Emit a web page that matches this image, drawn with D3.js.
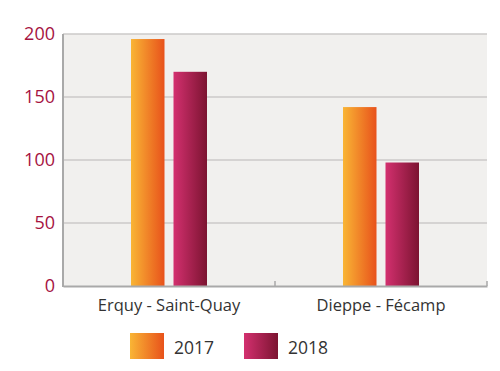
<!DOCTYPE html>
<html><head><meta charset="utf-8">
<script src="https://cdn.jsdelivr.net/npm/d3@7"></script>
<style>body{margin:0;background:#fff}svg{display:block}</style>
</head><body>
<svg id="c" width="500" height="371"></svg>
<script>
const categories = ["Erquy - Saint-Quay", "Dieppe - Fécamp"];
const seriesNames = ["2017", "2018"];
const values2017 = [196, 142];
const values2018 = [170, 98];
const yTicks = [0, 50, 100, 150, 200];

const svg = d3.select("#c");
const m = {l: 63, r: 487, t: 34, b: 286};
const x = d3.scaleBand().domain(categories).range([m.l, m.r]);
const xs = d3.scaleBand().domain(seriesNames).range([0, x.bandwidth()]).paddingInner(0.212).paddingOuter(1.6);
const y = d3.scaleLinear().domain([0, 200]).range([m.b, m.t]);

const defs = svg.append("defs");
const grads = [["g2017", "#f9b535", "#e8521b"], ["g2018", "#d3306f", "#7c1431"]];
grads.forEach(([id, a, b]) => {
  const g = defs.append("linearGradient").attr("id", id).attr("x1", 0).attr("x2", 1).attr("y1", 0).attr("y2", 0);
  g.append("stop").attr("offset", 0).attr("stop-color", a);
  g.append("stop").attr("offset", 1).attr("stop-color", b);
});

svg.append("rect").attr("x", m.l).attr("y", m.t).attr("width", m.r - m.l).attr("height", m.b - m.t).attr("fill", "#f1f0ee");

svg.append("g").selectAll("line").data(yTicks.filter(d => d > 0)).join("line")
  .attr("x1", m.l).attr("x2", m.r).attr("y1", d => y(d)).attr("y2", d => y(d))
  .attr("stroke", "#cbcac8").attr("stroke-width", 1.5);

const yAxis = svg.append("g").attr("transform", `translate(${m.l},0)`)
  .call(d3.axisLeft(y).tickValues(yTicks).tickSize(0).tickPadding(8));
yAxis.select(".domain").remove();
yAxis.selectAll("text").attr("fill", "#a6133f").attr("font-family", "Open Sans, sans-serif").attr("font-size", 18);

const data = categories.map((c, i) => ({c, v: [values2017[i], values2018[i]]}));
const g = svg.append("g");
data.forEach(d => {
  seriesNames.forEach((s, j) => {
    g.append("rect")
      .attr("x", x(d.c) + xs(s)).attr("width", xs.bandwidth())
      .attr("y", y(d.v[j])).attr("height", y(0) - y(d.v[j]))
      .attr("fill", `url(#g${s})`);
  });
});

// axes lines
svg.append("line").attr("x1", m.l).attr("x2", m.l).attr("y1", m.t).attr("y2", m.b + 1).attr("stroke", "#a9a9a9").attr("stroke-width", 2);
const xAxis = svg.append("g").attr("transform", `translate(0,${m.b})`)
  .call(d3.axisBottom(x).tickSize(0));
xAxis.select(".domain").attr("stroke", "#a9a9a9").attr("stroke-width", 2);
xAxis.selectAll("text").attr("y", 25).attr("dy", 0)
  .attr("fill", "#333").attr("font-family", "Open Sans, sans-serif").attr("font-size", 16.5);
svg.append("g").selectAll("line").data([m.l + (m.r - m.l) / 2, m.r]).join("line")
  .attr("x1", d => d).attr("x2", d => d).attr("y1", m.b - 5).attr("y2", m.b)
  .attr("stroke", "#a9a9a9").attr("stroke-width", 1.5);

// legend
const leg = svg.append("g");
const legX = [130, 244];
seriesNames.forEach((s, i) => {
  leg.append("rect").attr("x", legX[i]).attr("y", 333).attr("width", 34).attr("height", 26).attr("fill", `url(#g${s})`);
  leg.append("text").attr("x", legX[i] + 44).attr("y", 354).text(s)
    .attr("fill", "#333").attr("font-family", "Open Sans, sans-serif").attr("font-size", 17.5);
});
</script>
</body></html>
